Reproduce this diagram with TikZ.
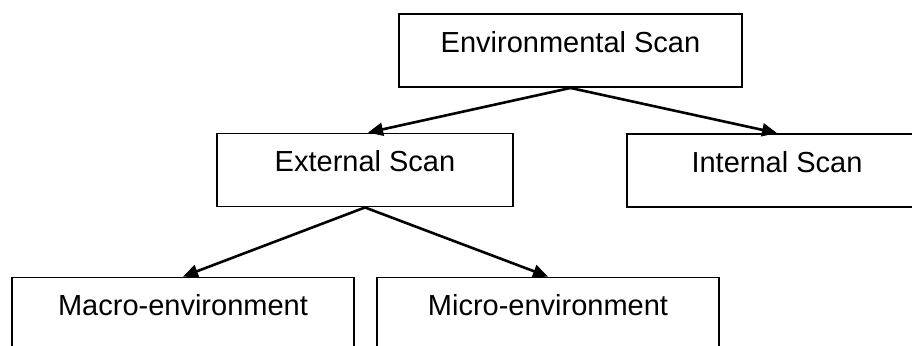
\documentclass[tikz,border=0pt]{standalone}
\usepackage{fontspec}
\setmainfont{Liberation Sans}
\usepackage{tikz}
\usetikzlibrary{arrows,arrows.meta,calc,positioning}

\begin{document}
\begin{tikzpicture}[
    x=0.5pt, y=-0.5pt,
    scanbox/.style={
        draw, rectangle, line width=0.95pt, inner sep=0,
        minimum height=36.5pt, align=center,
        text height=10pt, text depth=8.5pt,
        font=\fontsize{14.5}{17}\selectfont},
    link/.style={line width=1.3pt, -{Triangle[length=7.5pt,width=6.5pt]}}]
\useasboundingbox (0,0) rectangle (912,345);
\clip (0,0) rectangle (912,345);

\node (env)   [scanbox, minimum width=171.5pt] at (570.5,50.5) {Environmental Scan};
\node (ext)   [scanbox, minimum width=148pt]   at (365,170)    {External Scan};
\node (int)   [scanbox, minimum width=150pt]   at (777,170.5)  {Internal Scan};
\node (macro) [scanbox, minimum width=171pt]   at (183,314)    {Macro-environment};
\node (micro) [scanbox, minimum width=171pt]   at (548,314)    {Micro-environment};

\draw[link] (env.south) -- ([xshift=1.5pt]ext.north);
\draw[link] (env.south) -- (int.north);
\draw[link] (ext.south) -- (macro.north);
\draw[link] (ext.south) -- (micro.north);

\end{tikzpicture}
\end{document}
